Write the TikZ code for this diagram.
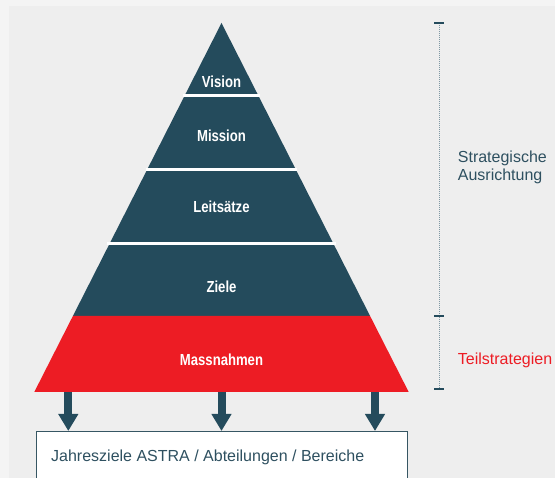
\documentclass[tikz,border=0pt]{standalone}
\usepackage{fontspec}
\setmainfont{Liberation Sans}
\newfontfamily\narrowfont[FakeStretch=0.82]{Liberation Sans}
\usetikzlibrary{arrows.meta}
\definecolor{teal}{HTML}{244B5C}
\definecolor{astrared}{HTML}{ED1C24}
\definecolor{outerbg}{HTML}{F4F4F4}
\definecolor{panelbg}{HTML}{EEEEEE}
\definecolor{dotcol}{HTML}{7F98A3}
\definecolor{labeltxt}{HTML}{2E5060}
\begin{document}
\begin{tikzpicture}[x=1pt,y=-1pt,
  lvl/.style={text=white,font=\narrowfont\bfseries\fontsize{16}{18}\selectfont,anchor=base,inner sep=0pt},
  sidelbl/.style={font=\fontsize{16}{18}\selectfont,anchor=base west,inner sep=0pt},
  sep/.style={draw=white,line width=3pt},
  downarrow/.style={draw=teal,line width=8pt,-{Triangle[width=19pt,length=17pt]}},
  tick/.style={draw=teal,line width=2pt},
]
\useasboundingbox (0,0) rectangle (555,478);
\fill[outerbg] (0,0) rectangle (555,478);
\fill[panelbg] (9,6) rectangle (555,478);
% pyramid
\coordinate (apex) at (221.5,23);
\coordinate (ml) at (72.9,316);
\coordinate (mr) at (370.1,316);
\coordinate (bl) at (34.3,392);
\coordinate (br) at (408.7,392);
\fill[teal] (apex) -- (mr) -- (ml) -- cycle;
\fill[astrared] (ml) -- (mr) -- (br) -- (bl) -- cycle;
\draw[sep] (183,96) -- (260,96);
\draw[sep] (146,170) -- (297,170);
\draw[sep] (107,243.5) -- (336,243.5);
\node[lvl] (vision) at (221.5,87.3) {Vision};
\node[lvl] (mission) at (221.5,142) {Mission};
\node[lvl] (leit) at (221.5,212.7) {Leitsätze};
\node[lvl] (ziele) at (221.5,292.7) {Ziele};
\node[lvl] (mass) at (221.5,365.7) {Massnahmen};
% box
\node[draw=teal!80!gray,line width=1pt,fill=white,anchor=north west,minimum width=371pt,minimum height=70pt,inner sep=0pt] (box) at (36,431) {};
\node[sidelbl,text=labeltxt] (jz) at (51,462) {Jahresziele ASTRA / Abteilungen / Bereiche};
% arrows
\foreach \x/\n in {68.3/a1,221.5/a2,375/a3}{
  \coordinate (\n) at (\x,392);
  \draw[downarrow] (\n) -- (box.north -| \n);
}
% scale
\coordinate (s1) at (439,23);
\coordinate (s2) at (439,316.5);
\coordinate (s3) at (439,389.5);
\draw[dotcol,line width=1pt,densely dotted] (s1) -- (s3);
\foreach \s in {s1,s2,s3}{\draw[tick] ([xshift=-4.7pt]\s) -- ([xshift=4.7pt]\s);}
\node[sidelbl,text=labeltxt] (strat) at (457.7,162.3) {Strategische};
\node[sidelbl,text=labeltxt] (ausr) at (457.7,180.3) {Ausrichtung};
\node[sidelbl,text=astrared] (teil) at (457.7,364.7) {Teilstrategien};
\end{tikzpicture}
\end{document}
